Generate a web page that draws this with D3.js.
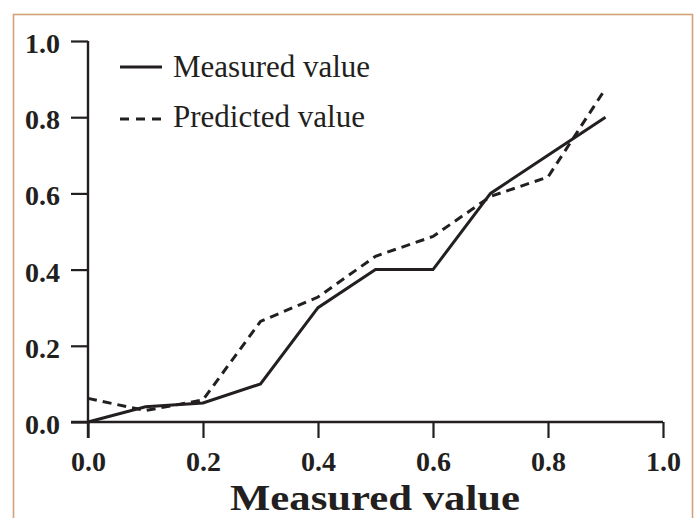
<!DOCTYPE html>
<html>
<head>
<meta charset="utf-8">
<script src="https://cdn.jsdelivr.net/npm/d3@7/dist/d3.min.js"></script>
<style>
  html, body { margin: 0; padding: 0; background: #fff; }
  svg { display: block; }
  text { font-family: "Liberation Serif", serif; }
</style>
</head>
<body>
<svg id="chart" width="696" height="518"></svg>
<script>
const xValues = [0.0, 0.1, 0.2, 0.3, 0.4, 0.5, 0.6, 0.7, 0.8, 0.9];
const measured = [0.0, 0.04, 0.05, 0.10, 0.30, 0.40, 0.40, 0.60, 0.70, 0.80];
const predicted = [0.062, 0.03, 0.058, 0.264, 0.328, 0.435, 0.487, 0.592, 0.643, 0.875];
const xTicks = [0.0, 0.2, 0.4, 0.6, 0.8, 1.0];
const yTicks = [0.0, 0.2, 0.4, 0.6, 0.8, 1.0];
const seriesNames = ["Measured value", "Predicted value"];
const xTitle = "Measured value";

const ink = "#231f20";
const svg = d3.select("#chart");

svg.append("rect")
  .attr("x", 13.5).attr("y", 14.5)
  .attr("width", 679).attr("height", 540)
  .attr("fill", "none")
  .attr("stroke", "#d3a27a")
  .attr("stroke-width", 1.6);

const x = d3.scaleLinear().domain([0, 1]).range([88, 663]);
const y = d3.scaleLinear().domain([0, 1]).range([422, 41]);

const fmt = d3.format(".1f");

const gx = svg.append("g").attr("transform", `translate(0,${y(0)})`)
  .call(d3.axisBottom(x).tickValues(xTicks).tickSize(16).tickSizeOuter(0).tickFormat(fmt));
const gy = svg.append("g").attr("transform", `translate(${x(0)},0)`)
  .call(d3.axisLeft(y).tickValues(yTicks).tickSize(17).tickSizeOuter(0).tickFormat(fmt));

[gx, gy].forEach(g => {
  g.select(".domain").attr("stroke", ink).attr("stroke-width", 2.4);
  g.selectAll(".tick line").attr("stroke", ink).attr("stroke-width", 2.2);
  g.selectAll(".tick text")
    .attr("fill", ink)
    .style("font-family", "'Liberation Serif', serif")
    .style("font-weight", "bold")
    .style("font-size", "28px");
});
gx.selectAll(".tick text").attr("y", 49).attr("dy", 0);
gy.selectAll(".tick text").attr("x", -28).attr("dy", 11.5);
gx.select(".domain").attr("d", `M${x(0) - 17},0H${x(1)}`);
gy.select(".domain").attr("d", `M0,${y(1)}V${y(0) + 16}`);

const line = d3.line().x((d, i) => x(xValues[i])).y(d => y(d));
svg.append("path").datum(predicted)
  .attr("d", line)
  .attr("fill", "none").attr("stroke", ink)
  .attr("stroke-width", 3).attr("stroke-dasharray", "9,6");
svg.append("path").datum(measured)
  .attr("d", line)
  .attr("fill", "none").attr("stroke", ink)
  .attr("stroke-width", 3);

const lg = svg.append("g");
lg.append("line").attr("x1", 120).attr("x2", 162).attr("y1", 67).attr("y2", 67)
  .attr("stroke", ink).attr("stroke-width", 3);
lg.append("line").attr("x1", 120).attr("x2", 161).attr("y1", 119).attr("y2", 119)
  .attr("stroke", ink).attr("stroke-width", 3).attr("stroke-dasharray", "9,7");
const legendText = [{t: seriesNames[0], y: 77}, {t: seriesNames[1], y: 127}];
lg.selectAll("text.leg").data(legendText).enter().append("text")
  .attr("class", "leg")
  .attr("x", 173).attr("y", d => d.y)
  .attr("fill", ink)
  .style("font-family", "'Liberation Serif', serif")
  .style("font-size", "31px")
  .text(d => d.t);

svg.append("text")
  .attr("x", 375).attr("y", 510)
  .attr("text-anchor", "middle")
  .attr("fill", ink)
  .style("font-family", "'Liberation Serif', serif")
  .style("font-weight", "bold")
  .style("font-size", "36px")
  .attr("textLength", 290)
  .attr("lengthAdjust", "spacingAndGlyphs")
  .text(xTitle);
</script>
</body>
</html>
